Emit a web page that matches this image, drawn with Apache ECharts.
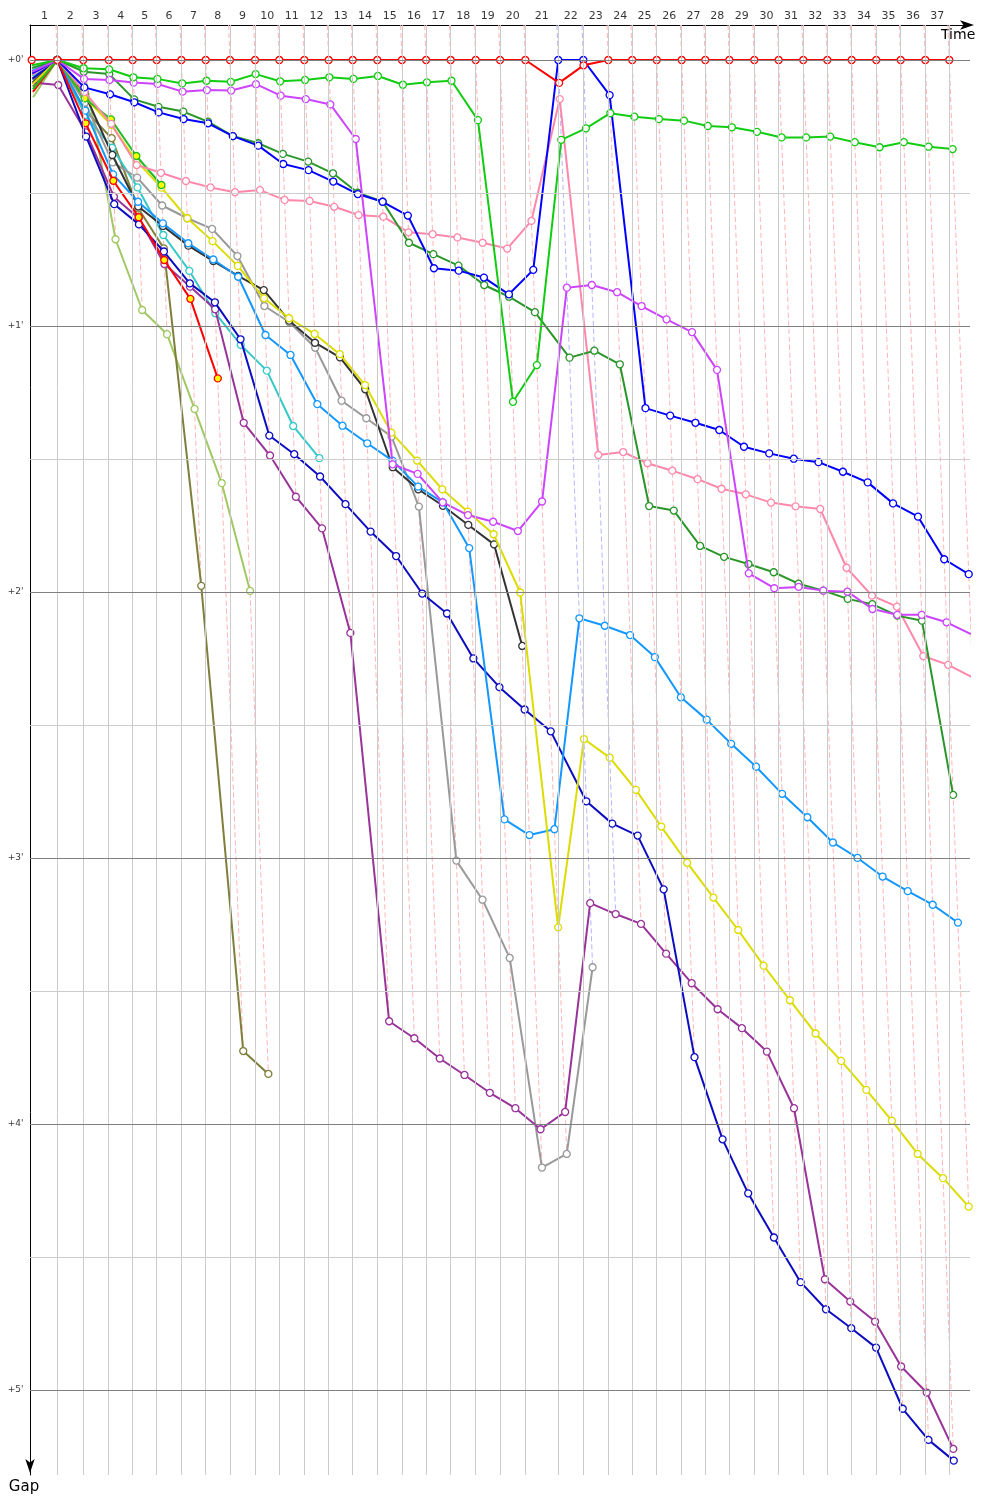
<!DOCTYPE html>
<html><head><meta charset="utf-8">
<script src="https://cdn.jsdelivr.net/npm/echarts@6/dist/echarts.min.js"></script>
<style>html,body{margin:0;padding:0;background:#fff}#c{width:1000px;height:1500px}</style>
</head><body><div id="c"></div>
<script>
// Leader's elapsed time (minutes) at the end of each lap 0..37
const leaderTime = [0, 2.54, 5.12, 7.65, 10.03, 12.41, 14.86, 17.28, 19.69, 22.18, 24.59,
  27.07, 29.49, 31.88, 34.32, 36.77, 39.16, 41.61, 44.09, 46.51, 49.02,
  52.29, 54.78, 57.26, 59.64, 62.07, 64.55, 66.89, 69.28, 71.76, 74.18,
  76.62, 79.01, 81.43, 83.87, 86.30, 88.74, 91.12];
const lapLabels = ['1','2','3','4','5','6','7','8','9','10','11','12','13','14','15','16','17','18','19','20',
  '21','22','23','24','25','26','27','28','29','30','31','32','33','34','35','36','37'];
const gapTicks = [0, 1, 2, 3, 4, 5];
const gapTickLabels = ["+0'", "+1'", "+2'", "+3'", "+4'", "+5'"];
const gapMinor = [0.5, 1.5, 2.5, 3.5, 4.5];
const blueLeaderLaps = [21, 22];

// Gap to leader (minutes) per lap, index = lap 0..n
const gapsRed = [0,0,0,0,0,0,0,0,0,0,0,0,0,0,0,0,0,0,0,0,0,0.086,0.02,0,0,0,0,0,0,0,0,0,0,0,0,0,0,0];
const gapsGreen = [0.02,0,0.031,0.035,0.065,0.071,0.088,0.078,0.082,0.053,0.08,0.075,0.065,0.071,0.06,0.093,0.084,0.078,0.226,1.285,1.147,0.30,0.257,0.2,0.213,0.222,0.228,0.248,0.253,0.27,0.291,0.291,0.288,0.309,0.328,0.309,0.326,0.335];
const gapsViolet = [0.045,0,0.071,0.075,0.085,0.09,0.119,0.113,0.115,0.091,0.134,0.147,0.167,0.297,1.52,1.556,1.663,1.711,1.736,1.771,1.66,0.856,0.846,0.873,0.925,0.975,1.023,1.165,1.93,1.986,1.981,1.995,1.999,2.064,2.086,2.086,2.114,2.158];
const gapsBlue = [0.05,0,0.103,0.129,0.159,0.197,0.222,0.238,0.286,0.322,0.391,0.414,0.457,0.504,0.533,0.585,0.783,0.792,0.818,0.881,0.789,0,0,0.132,1.309,1.337,1.364,1.391,1.454,1.479,1.499,1.512,1.548,1.588,1.667,1.717,1.877,1.933];
const gapsDarkGreen = [0.03,0,0.044,0.053,0.148,0.176,0.194,0.232,0.286,0.313,0.353,0.382,0.426,0.499,0.533,0.687,0.73,0.773,0.846,0.89,0.948,1.119,1.093,1.144,1.677,1.694,1.827,1.868,1.895,1.926,1.969,1.995,2.026,2.046,2.089,2.108,2.763];
const gapsPink = [0.055,0,0.12,0.24,0.395,0.424,0.455,0.479,0.497,0.489,0.526,0.53,0.552,0.583,0.589,0.648,0.655,0.667,0.687,0.709,0.605,0.147,1.485,1.474,1.516,1.544,1.576,1.612,1.633,1.664,1.678,1.688,1.909,2.014,2.055,2.241,2.274,2.321];
const gapsYellow = [0.09,0,0.14,0.244,0.38,0.48,0.595,0.681,0.774,0.896,0.971,1.03,1.106,1.222,1.401,1.506,1.614,1.698,1.783,2.002,3.261,2.553,2.623,2.744,2.882,3.018,3.149,3.271,3.405,3.535,3.66,3.763,3.872,3.988,4.113,4.204,4.311];
const gapsLightBlue = [0.04,0,0.19,0.43,0.533,0.614,0.689,0.75,0.815,1.034,1.109,1.294,1.375,1.441,1.506,1.604,1.663,1.835,2.855,2.914,2.892,2.099,2.127,2.162,2.245,2.396,2.48,2.571,2.657,2.759,2.847,2.942,3.0,3.07,3.125,3.176,3.243];
const gapsNavy = [0.07,0,0.288,0.542,0.618,0.72,0.84,0.911,1.05,1.412,1.482,1.566,1.67,1.773,1.865,2.006,2.081,2.25,2.358,2.442,2.524,2.787,2.871,2.916,3.118,3.749,4.058,4.261,4.427,4.595,4.697,4.768,4.841,5.071,5.188,5.266];
const gapsPurple = [0.085,0.094,0.272,0.514,0.595,0.767,0.852,0.937,1.364,1.487,1.642,1.761,2.154,3.614,3.678,3.754,3.816,3.883,3.941,4.02,3.955,3.17,3.211,3.248,3.36,3.471,3.569,3.64,3.728,3.941,4.584,4.668,4.743,4.912,5.01,5.222];
const gapsGray = [0.075,0,0.16,0.385,0.442,0.547,0.595,0.635,0.737,0.925,0.985,1.082,1.281,1.347,1.416,1.679,3.01,3.157,3.376,4.164,4.113,3.411];
const gapsBlack = [0.085,0,0.125,0.357,0.551,0.624,0.698,0.756,0.812,0.865,0.98,1.063,1.118,1.238,1.531,1.614,1.676,1.748,1.821,2.203];
const gapsCyan = [0.06,0,0.207,0.33,0.479,0.658,0.793,0.952,1.071,1.168,1.376,1.497];
const gapsOlive = [0.1,0,0.19,0.294,0.558,0.708,1.977,3.726,3.812];
const gapsLightOlive = [0.14,0,0.031,0.674,0.94,1.031,1.312,1.591,1.996];
const gapsRedYellow = [0.12,0,0.238,0.454,0.591,0.752,0.898,1.197];
const gapsGreenYellow = [0.11,0,0.144,0.223,0.361,0.47];

const XMIN = -0.17, XMAX = 93.18, YMIN = -0.1316, YMAX = 5.32;

const drivers = [
  {gaps: gapsLightOlive, color: '#a0c864'},
  {gaps: gapsOlive, color: '#7f7f3c'},
  {gaps: gapsCyan, color: '#36c8c8'},
  {gaps: gapsGray, color: '#999999'},
  {gaps: gapsBlack, color: '#333333'},
  {gaps: gapsPurple, color: '#993399'},
  {gaps: gapsNavy, color: '#0c0cc0'},
  {gaps: gapsLightBlue, color: '#1497ff'},
  {gaps: gapsYellow, color: '#dcdc00'},
  {gaps: gapsRedYellow, color: '#ff0000', fill: '#ffff00'},
  {gaps: gapsGreenYellow, color: '#22bb22', fill: '#ffff00'},
  {gaps: gapsPink, color: '#ff88aa'},
  {gaps: gapsDarkGreen, color: '#2a962a'},
  {gaps: gapsBlue, color: '#0000ff'},
  {gaps: gapsViolet, color: '#cc44ff'},
  {gaps: gapsGreen, color: '#11cc11'},
  {gaps: gapsRed, color: '#ff0000', first: true}
];

const series = [];
// grid lines
const gridLines = [];
for (let n = 1; n < leaderTime.length; n++) {
  gridLines.push({xAxis: leaderTime[n], lineStyle: {color: '#cccccc', width: 1, type: 'solid'}});
}
gapMinor.forEach(g => gridLines.push({yAxis: g, lineStyle: {color: '#cccccc', width: 1, type: 'solid'}}));
gapTicks.forEach(g => gridLines.push({yAxis: g, lineStyle: {color: '#808080', width: 1, type: 'solid'}}));
series.push({type: 'line', data: [], silent: true, z: 1,
  markLine: {silent: true, symbol: 'none', animation: false, label: {show: false}, emphasis: {disabled: true}, data: gridLines}});

// lap lines (dashed)
for (let n = 1; n < leaderTime.length; n++) {
  let gmax = 0;
  drivers.forEach(d => { if (d.gaps.length > n) gmax = Math.max(gmax, d.gaps[n]); });
  const blue = blueLeaderLaps.indexOf(n) >= 0;
  series.push({type: 'line', silent: true, z: 2, symbol: 'none', animation: false,
    data: [[leaderTime[n] + YMIN, YMIN], [leaderTime[n] + gmax, gmax]],
    lineStyle: {color: blue ? '#b4b4ff' : '#ffb4b4', width: 1, type: [5, 3]},
    emphasis: {disabled: true}});
}

// driver lines
drivers.forEach((d, k) => {
  series.push({type: 'line', z: 3 + k * 0.01, silent: true, animation: false,
    symbol: 'circle', symbolSize: 7, showSymbol: true, showAllSymbol: true,
    data: d.gaps.map((g, i) => {
      const it = {value: [leaderTime[i] + g, g]};
      if (i === 0 && !d.first) it.symbol = 'none';
      return it;
    }),
    lineStyle: {color: d.color, width: 2},
    itemStyle: {color: d.fill || '#ffffff', borderColor: d.color, borderWidth: 1.3},
    emphasis: {disabled: true}});
});

// lap labels on top axis
series.push({type: 'scatter', silent: true, z: 10, clip: false, symbolSize: 1,
  itemStyle: {color: 'transparent'},
  data: lapLabels.map((s, i) => ({name: s, value: [(leaderTime[i] + leaderTime[i + 1]) / 2, YMIN]})),
  label: {show: true, position: 'top', distance: 3, formatter: '{b}', color: '#000', fontSize: 11, fontFamily: 'DejaVu Sans'}});
// gap labels on left axis
series.push({type: 'scatter', silent: true, z: 10, clip: false, symbolSize: 1,
  itemStyle: {color: 'transparent'},
  data: gapTicks.map((g, i) => ({name: gapTickLabels[i], value: [XMIN, g]})),
  label: {show: true, position: 'left', distance: 6, formatter: '{b}', color: '#000', fontSize: 9, fontFamily: 'DejaVu Sans'}});

const chart = echarts.init(document.getElementById('c'), null, {renderer: 'canvas'});
chart.setOption({
  animation: false,
  backgroundColor: '#ffffff',
  grid: {left: 30, right: 30, top: 25, bottom: 25, containLabel: false},
  xAxis: {type: 'value', position: 'top', min: XMIN, max: XMAX,
    axisLine: {show: true, onZero: false, symbol: ['none', 'arrow'], symbolSize: [7, 14], symbolOffset: [0, 4], lineStyle: {color: '#000', width: 1}},
    axisTick: {show: false}, axisLabel: {show: false}, splitLine: {show: false},
    name: 'Time', nameLocation: 'end', nameGap: -29,
    nameTextStyle: {fontSize: 14, color: '#000', fontFamily: 'DejaVu Sans', verticalAlign: 'top', align: 'left', padding: [3, 0, 0, 0]}},
  yAxis: {type: 'value', inverse: true, min: YMIN, max: YMAX,
    axisLine: {show: true, onZero: false, symbol: ['arrow', 'none'], symbolSize: [7, 14], symbolOffset: [2, 0], lineStyle: {color: '#000', width: 1}},
    axisTick: {show: false}, axisLabel: {show: false}, splitLine: {show: false},
    name: 'Gap', nameLocation: 'end', nameGap: 5,
    nameTextStyle: {fontSize: 15, color: '#000', fontFamily: 'DejaVu Sans', align: 'center', verticalAlign: 'top', padding: [0, 12, 0, 0]}},
  series: series
});
</script></body></html>
